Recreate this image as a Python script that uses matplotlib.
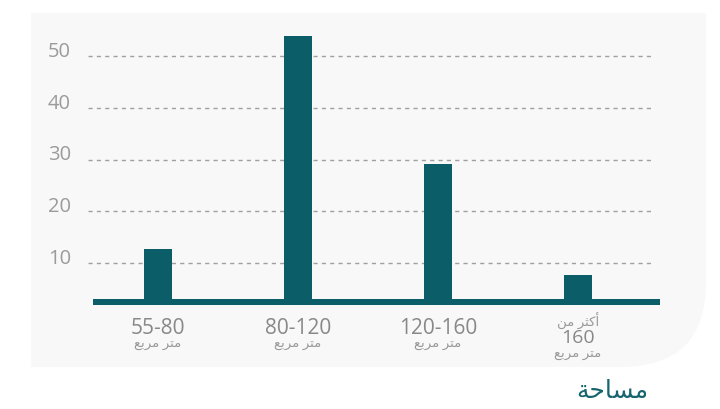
import matplotlib
matplotlib.use("Agg")
import matplotlib.pyplot as plt
from matplotlib.patches import PathPatch
from matplotlib.path import Path
from matplotlib.transforms import blended_transform_factory

plt.rcParams['font.family'] = ['Open Sans', 'DejaVu Sans']

# البيانات (Arabic written in presentation forms, visual order)
ranges = ['55-80', '80-120', '120-160', '160']
values = [12.7, 53.9, 29.2, 7.7]
unit = '\uFECA\uFE91\uFEAE\uFEE3 \uFEAE\uFE98\uFEE3'      # متر مربع
more_than = '\uFEE6\uFEE3 \uFEAE\uFE9C\uFEDB\uFE83'        # أكثر من
title = '\uFE94\uFEA3\uFE8E\uFEB4\uFEE3'                   # مساحة
yticks = [10, 20, 30, 40, 50]

W, H = 720, 410
teal = '#0b5d67'
fig = plt.figure(figsize=(W / 100, H / 100), dpi=100)
fig.patch.set_facecolor('white')

# light panel with rounded bottom-right corner (figure pixels)
x0, y0, x1, y1, r = 31, 14, 706, 368, 85
verts = [(x0, H - y0), (x1, H - y0), (x1, H - (y1 - r)),
         (x1, H - y1), (x1 - r, H - y1), (x0, H - y1), (x0, H - y0)]
codes = [Path.MOVETO, Path.LINETO, Path.LINETO, Path.CURVE3, Path.CURVE3,
         Path.LINETO, Path.CLOSEPOLY]
panel = PathPatch(Path([(vx / W, vy / H) for vx, vy in verts], codes),
                  transform=fig.transFigure, facecolor='#f8f8f8',
                  edgecolor='none', zorder=-10)
fig.patches.append(panel)

# axes placed in pixels
ax_l, ax_r, ax_t, ax_b = 88, 660, 30, 305.7
ax = fig.add_axes([ax_l / W, 1 - ax_b / H, (ax_r - ax_l) / W, (ax_b - ax_t) / H])
ax.set_zorder(1)
ax.set_facecolor('none')
px_per_unit = 5.16
zero_px = 315.3
ax.set_ylim((zero_px - ax_b) / px_per_unit, (zero_px - ax_t) / px_per_unit)
ax.set_xlim(-0.5, 3.586)
for s in ax.spines.values():
    s.set_visible(False)
ax.set_xticks([])
ax.set_yticks([])

xs = list(range(len(values)))
grid_end = (653 - ax_l) / (ax_r - ax_l)
for v in yticks:
    ax.axhline(v, xmin=0, xmax=grid_end, color='#a0a0a0', lw=1,
               ls=(0, (3, 3)), zorder=1)
    ax.text(-0.03, v, str(v), transform=blended_transform_factory(ax.transAxes, ax.transData),
            ha='right', va='baseline', fontsize=14.5, color='#9b9b9b')

ax.bar(xs, values, width=0.2, color=teal, zorder=2)

ylo = ax.get_ylim()[0]
ax.axhspan(ylo, ylo + 5.7 / px_per_unit, xmin=(93 - ax_l) / (ax_r - ax_l), xmax=1,
           color=teal, lw=0, zorder=3)

# category labels
tr = blended_transform_factory(ax.transData, fig.transFigure)
def fy(px):
    return 1 - px / H

for i, lab in enumerate(ranges[:3]):
    ax.text(xs[i], fy(328), lab, transform=tr, ha='center', va='center',
            fontsize=15, color='#888888', clip_on=False)
    ax.text(xs[i], fy(345), unit, transform=tr, ha='center', va='center',
            fontsize=9.5, color='#9a9a9a', clip_on=False)
ax.text(xs[3], fy(321), more_than, transform=tr, ha='center', va='center',
        fontsize=9.5, color='#9a9a9a', clip_on=False)
ax.text(xs[3], fy(338.5), ranges[3], transform=tr, ha='center', va='center',
        fontsize=14, color='#888888', clip_on=False)
ax.text(xs[3], fy(355), unit, transform=tr, ha='center', va='center',
        fontsize=9.5, color='#9a9a9a', clip_on=False)

fig.text(612 / W, fy(392), title, ha='center', va='center', fontsize=18, color='#16646d')

fig.savefig('out.png', dpi=100, facecolor='white')
